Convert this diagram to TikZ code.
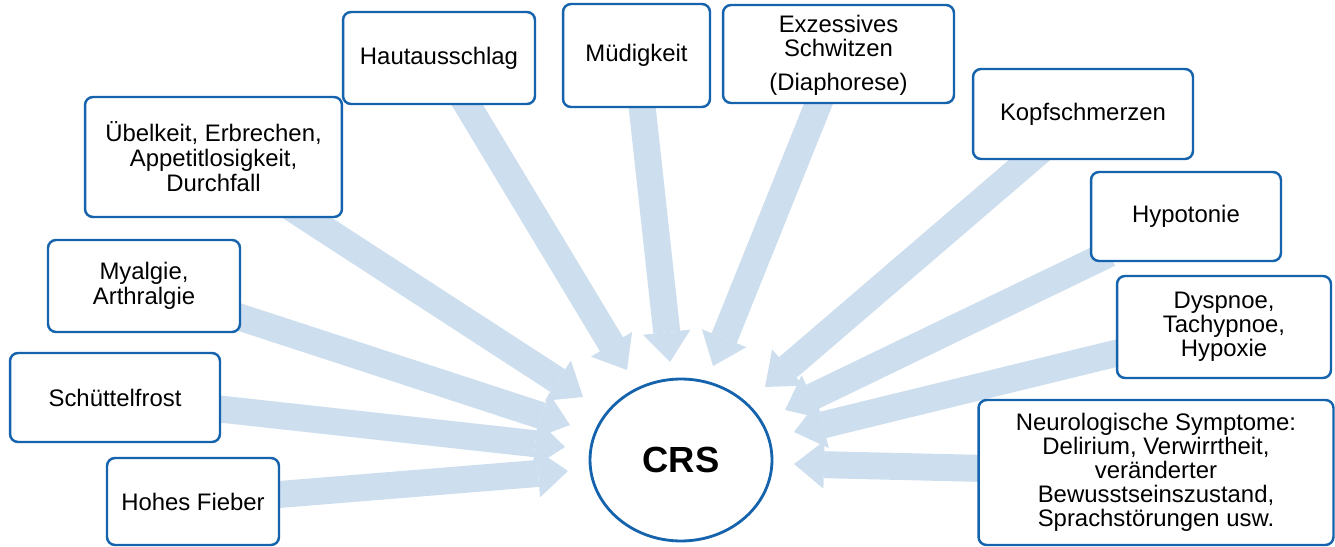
\documentclass[tikz,border=0pt]{standalone}
\usepackage{fontspec}
\setmainfont{Liberation Sans}
\usetikzlibrary{shapes.geometric,arrows.meta,backgrounds}
\definecolor{boxblue}{RGB}{20,99,172}
\definecolor{flowblue}{RGB}{205,222,238}

\begin{document}
\begin{tikzpicture}[x=0.02cm, y=-0.02cm,
  symptom/.style = {shape=rectangle, rounded corners=0.16cm,
    draw=boxblue, line width=1.4pt, fill=white, align=center,
    inner sep=2pt, font=\fontsize{13.6}{14.2}\selectfont},
  tight/.style = {font=\fontsize{13.6}{13.6}\selectfont},
  crs/.style = {shape=ellipse, draw=boxblue, line width=1.6pt,
    fill=white, inner sep=0pt, minimum width=3.64cm, minimum height=3.24cm,
    font=\fontsize{20.7}{24}\selectfont\bfseries},
  flow/.style = {draw=flowblue, line width=0.54cm, shorten <=-0.4cm,
    -{Triangle[width=0.96cm, length=0.6cm, line width=0pt]}}]
  \useasboundingbox (0,0) rectangle (1335,547);

  % symptoms
  \node[symptom, minimum width=3.84cm, minimum height=1.84cm] (haut) at (439,58) {Hautausschlag};
  \node[symptom, minimum width=2.94cm, minimum height=2.06cm] (muede) at (636.5,55.5) {Müdigkeit};
  \node[symptom, minimum width=4.62cm, minimum height=1.96cm] (schwitz) at (838.5,54) {\\[-3pt]Exzessives\\Schwitzen\\[5pt](Diaphorese)};
  \node[symptom, minimum width=4.40cm, minimum height=1.80cm] (kopf) at (1083,114) {Kopfschmerzen};
  \node[symptom, minimum width=3.80cm, minimum height=1.78cm] (hypo) at (1186,216.5) {Hypotonie};
  \node[symptom, tight, minimum width=4.28cm, minimum height=2.04cm] (dysp) at (1224,327) {Dyspnoe,\\Tachypnoe,\\Hypoxie};
  \node[symptom, tight, minimum width=7.10cm, minimum height=2.90cm] (neuro) at (1156,472.5) {Neurologische Symptome:\\Delirium, Verwirrtheit,\\veränderter\\Bewusstseinszustand,\\Sprachstörungen usw.};
  \node[symptom, minimum width=5.14cm, minimum height=2.40cm] (uebel) at (213.5,157) {Übelkeit, Erbrechen,\\Appetitlosigkeit,\\Durchfall};
  \node[symptom, minimum width=3.84cm, minimum height=1.84cm] (myal) at (144,286) {Myalgie,\\Arthralgie};
  \node[symptom, minimum width=4.20cm, minimum height=1.78cm] (schuett) at (115,397.5) {Schüttelfrost};
  \node[symptom, minimum width=3.44cm, minimum height=1.74cm] (fieber) at (193,501.5) {Hohes Fieber};

  \node[crs] (crs) at (681,460) {CRS};

  % arrow tips around CRS
  \coordinate (haut-tip) at (627,370);
  \coordinate (muede-tip) at (670,362);
  \coordinate (schwitz-tip) at (713,366);
  \coordinate (kopf-tip) at (765,387);
  \coordinate (hypo-tip) at (785,410);
  \coordinate (dysp-tip) at (794,432);
  \coordinate (neuro-tip) at (794,464);
  \coordinate (uebel-tip) at (583,397);
  \coordinate (myal-tip) at (570,425);
  \coordinate (schuett-tip) at (565,447);
  \coordinate (fieber-tip) at (568,471);

  \begin{scope}[on background layer]
    \foreach \n in {haut,muede,schwitz,kopf,hypo,dysp,neuro,uebel,myal,schuett,fieber}
      \draw[flow] (\n) -- (\n-tip);
  \end{scope}
\end{tikzpicture}
\end{document}
